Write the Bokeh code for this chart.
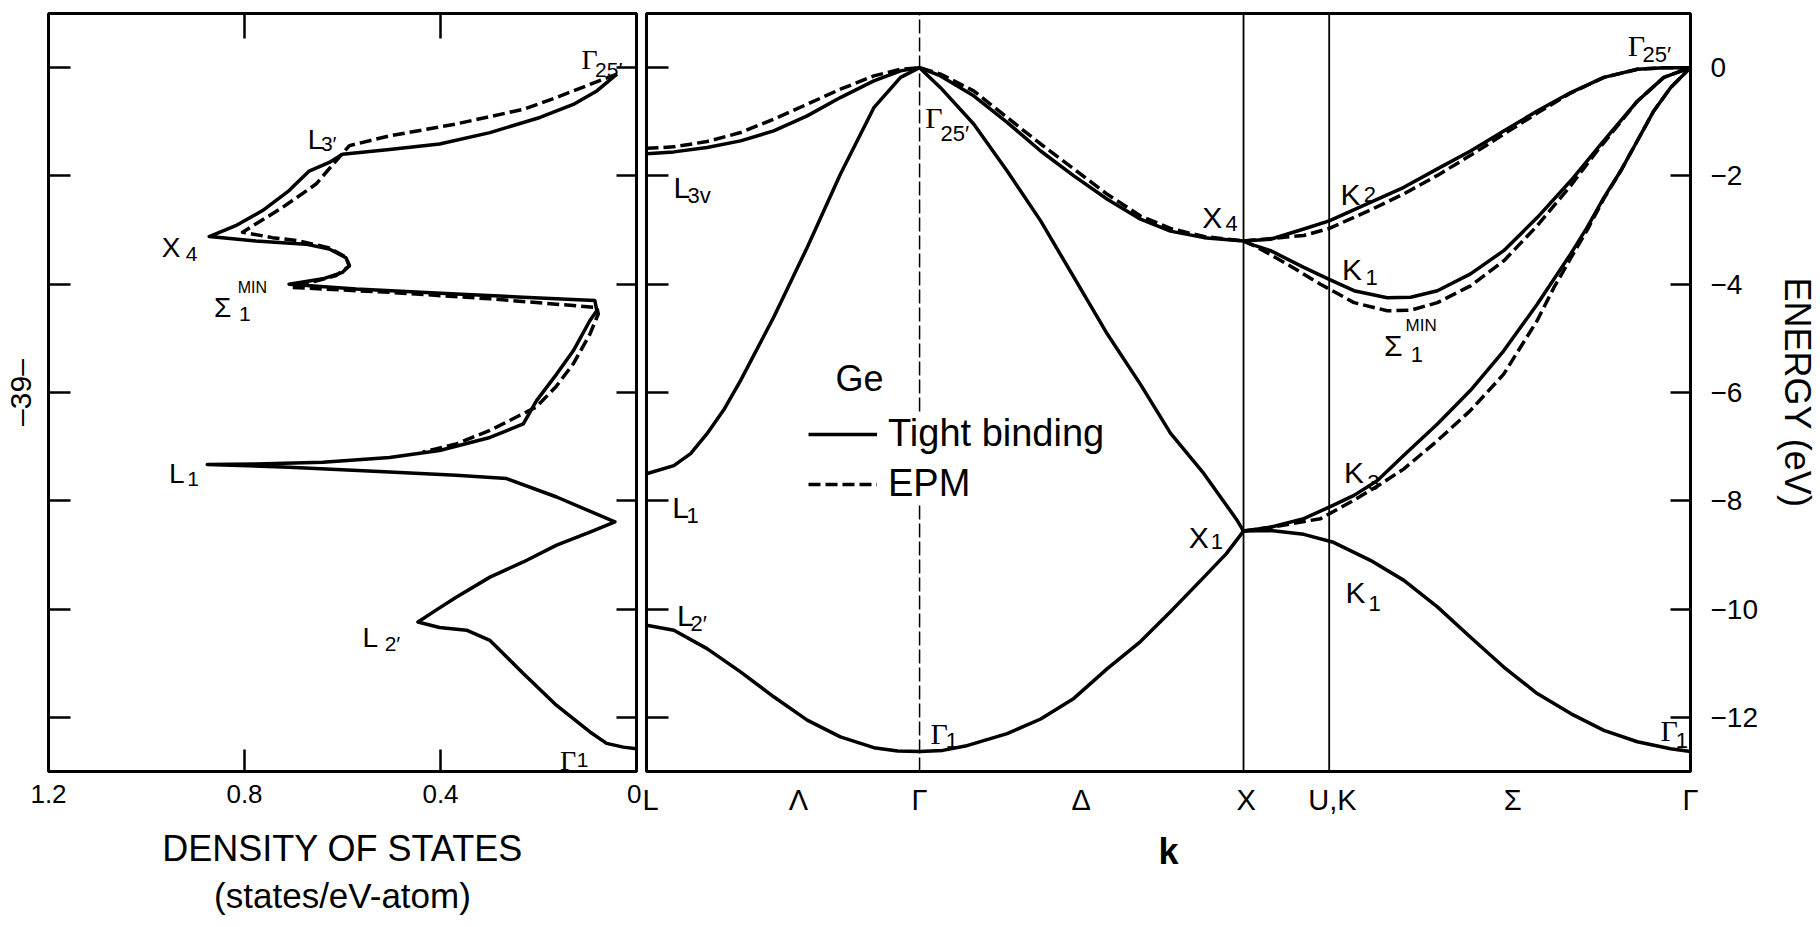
from bokeh.plotting import figure
from bokeh.models import (Range1d, LinearAxis, FixedTicker, Legend, LegendItem,
                          ColumnDataSource, CustomLabelingPolicy)
from bokeh.layouts import row
from bokeh.embed import file_html
from bokeh.resources import INLINE
from bokeh.core.properties import value

SANS = "Liberation Sans"
SERIF = "Liberation Serif"

# ---------------- axis definitions ----------------
E_MIN, E_MAX = -13.0, 1.0
energy_ticks = [0, -2, -4, -6, -8, -10, -12]
energy_tick_text = ["0", "\u22122", "\u22124", "\u22126", "\u22128", "\u221210", "\u221212"]
dos_ticks = [1.2, 0.8, 0.4, 0.0]
dos_tick_text = ["1.2", "0.8", "0.4", "0"]
dos_inner_ticks = [0.8, 0.4]
kpath_ticks = [0.013, 0.472, 0.848, 1.35, 1.862, 2.13, 2.69, 3.242]
kpath_tick_text = ["L", "\u039b", "\u0393", "\u0394", "X", "U,K", "\u03a3", "\u0393"]
K_MAX = 3.242
gamma_line_k = [0.848]
zone_lines_k = [1.854, 2.12]

# ---------------- density of states ----------------
dos_tb_D = [0.040, 0.081, 0.129, 0.197, 0.299, 0.402, 0.504, 0.600, 0.627, 0.668,
            0.709, 0.763, 0.818, 0.872, 0.777, 0.675, 0.627, 0.593, 0.586, 0.600,
            0.640, 0.709, 0.572, 0.368, 0.231, 0.085, 0.081, 0.095, 0.129, 0.163,
            0.204, 0.231, 0.299, 0.402, 0.504, 0.640, 0.777, 0.876, 0.709, 0.504,
            0.368, 0.265, 0.163, 0.044, 0.095, 0.163, 0.231, 0.299, 0.368, 0.409,
            0.446, 0.402, 0.347, 0.299, 0.231, 0.163, 0.095, 0.061, 0.027, 0.0]
dos_tb_E = [-0.12, -0.43, -0.68, -0.92, -1.20, -1.41, -1.51, -1.60, -1.75, -1.91,
            -2.27, -2.64, -2.92, -3.12, -3.20, -3.26, -3.35, -3.51, -3.66, -3.78,
            -3.90, -4.00, -4.09, -4.18, -4.24, -4.30, -4.49, -4.67, -5.23, -5.66,
            -6.15, -6.58, -6.83, -7.07, -7.20, -7.29, -7.32, -7.33, -7.38, -7.47,
            -7.53, -7.59, -7.93, -8.39, -8.58, -8.82, -9.13, -9.41, -9.78, -10.02,
            -10.24, -10.34, -10.39, -10.58, -11.19, -11.78, -12.27, -12.48, -12.55, -12.58]

dos_epm_D = [0.040, 0.095, 0.163, 0.231, 0.368, 0.504, 0.586, 0.613, 0.654, 0.722,
             0.804, 0.743, 0.688, 0.627, 0.593, 0.586, 0.613, 0.654, 0.702, 0.504,
             0.299, 0.081, 0.078, 0.095, 0.129, 0.165, 0.205, 0.299, 0.368, 0.436]
dos_epm_E = [-0.12, -0.31, -0.55, -0.77, -1.04, -1.26, -1.44, -1.72, -2.15, -2.58,
             -3.04, -3.14, -3.20, -3.33, -3.50, -3.66, -3.84, -3.94, -4.06, -4.15,
             -4.27, -4.43, -4.55, -4.92, -5.47, -5.90, -6.27, -6.70, -6.95, -7.10]

# ---------------- band structure: tight binding ----------------
tb_b1_k = [0.0, 0.085, 0.188, 0.292, 0.395, 0.499, 0.602, 0.706, 0.78, 0.848, 0.92,
           0.99, 1.12, 1.224, 1.327, 1.431, 1.534, 1.627, 1.731, 1.80, 1.854]
tb_b1_E = [-10.30, -10.39, -10.73, -11.16, -11.62, -12.05, -12.36, -12.56, -12.62,
           -12.63, -12.61, -12.53, -12.30, -12.03, -11.65, -11.10, -10.60, -10.05,
           -9.41, -8.98, -8.56]

tb_b2_k = [0.0, 0.085, 0.137, 0.188, 0.240, 0.292, 0.395, 0.499, 0.602, 0.706, 0.789,
           0.848, 0.913, 1.016, 1.12, 1.224, 1.327, 1.431, 1.534, 1.627, 1.731, 1.834, 1.854]
tb_b2_E = [-7.50, -7.35, -7.13, -6.76, -6.32, -5.78, -4.61, -3.32, -1.97, -0.74, -0.18,
           0.0, -0.37, -1.04, -1.91, -2.83, -3.87, -4.92, -5.85, -6.75, -7.50, -8.36, -8.56]

tb_b3_k = [0.0, 0.085, 0.188, 0.292, 0.395, 0.499, 0.602, 0.706, 0.789, 0.848, 0.913,
           1.016, 1.12, 1.224, 1.327, 1.431, 1.534, 1.627, 1.731, 1.854]
tb_b3_E = [-1.59, -1.556, -1.476, -1.353, -1.168, -0.891, -0.553, -0.245, -0.06, 0.0,
           -0.153, -0.52, -1.01, -1.54, -2.00, -2.43, -2.80, -3.02, -3.14, -3.20]

tb_k2_k = [1.854, 1.938, 2.041, 2.12, 2.248, 2.352, 2.456, 2.559, 2.662, 2.766, 2.87,
           2.973, 3.077, 3.16, 3.242]
tb_k2_E = [-3.20, -3.17, -2.98, -2.83, -2.49, -2.21, -1.87, -1.54, -1.17, -0.80, -0.46,
           -0.18, -0.03, 0.0, 0.0]

tb_s1_k = [1.854, 1.876, 1.938, 2.041, 2.12, 2.197, 2.30, 2.373, 2.456, 2.559, 2.662,
           2.766, 2.87, 2.973, 3.077, 3.159, 3.242]
tb_s1_E = [-3.20, -3.26, -3.38, -3.69, -3.91, -4.12, -4.25, -4.24, -4.12, -3.81, -3.38,
           -2.77, -2.09, -1.35, -0.62, -0.18, 0.0]

tb_k3_k = [1.854, 1.938, 2.041, 2.13, 2.197, 2.269, 2.352, 2.456, 2.559, 2.662, 2.766,
           2.87, 2.921, 2.973, 3.025, 3.077, 3.128, 3.18, 3.242]
tb_k3_E = [-8.56, -8.49, -8.33, -8.09, -7.90, -7.63, -7.16, -6.58, -5.96, -5.23, -4.37,
           -3.44, -2.95, -2.40, -1.91, -1.35, -0.80, -0.37, 0.0]

tb_k1_k = [1.854, 1.938, 2.041, 2.13, 2.248, 2.352, 2.456, 2.559, 2.662, 2.766, 2.87,
           2.973, 3.077, 3.18, 3.242]
tb_k1_E = [-8.56, -8.55, -8.62, -8.76, -9.10, -9.47, -9.96, -10.52, -11.07, -11.56,
           -11.93, -12.24, -12.45, -12.58, -12.63]

# ---------------- band structure: EPM ----------------
epm_b3_k = [0.0, 0.085, 0.188, 0.292, 0.395, 0.499, 0.602, 0.706, 0.789, 0.848, 0.913,
            1.016, 1.12, 1.224, 1.327, 1.431, 1.534, 1.627, 1.731, 1.854]
epm_b3_E = [-1.49, -1.463, -1.365, -1.199, -0.953, -0.676, -0.399, -0.153, -0.03, 0.0,
            -0.12, -0.43, -0.92, -1.41, -1.87, -2.34, -2.74, -2.97, -3.12, -3.20]

epm_k2_k = [1.854, 1.95, 2.041, 2.12, 2.248, 2.352, 2.456, 2.559, 2.662, 2.766, 2.87,
            2.973, 3.077, 3.16, 3.242]
epm_k2_E = [-3.20, -3.15, -3.10, -2.97, -2.63, -2.33, -1.99, -1.62, -1.23, -0.84, -0.47,
            -0.18, -0.03, 0.0, 0.0]

epm_s1_k = [1.854, 1.897, 1.99, 2.093, 2.197, 2.30, 2.373, 2.456, 2.559, 2.662, 2.766,
            2.87, 2.952, 3.077, 3.159, 3.242]
epm_s1_E = [-3.20, -3.32, -3.63, -4.00, -4.34, -4.49, -4.48, -4.34, -4.03, -3.57, -2.92,
            -2.18, -1.54, -0.62, -0.18, 0.0]

epm_k3_k = [1.854, 1.95, 2.093, 2.197, 2.28, 2.352, 2.456, 2.559, 2.662, 2.766, 2.818,
            2.87, 2.921, 2.973, 3.025, 3.077, 3.128, 3.18, 3.242]
epm_k3_E = [-8.56, -8.48, -8.33, -7.99, -7.69, -7.41, -6.89, -6.33, -5.66, -4.67, -4.06,
            -3.52, -3.00, -2.42, -1.91, -1.35, -0.80, -0.37, 0.0]

# ---------------- point labels ----------------
band_lbl_text = ["\u0393", "L", "L", "L", "\u0393", "X", "K", "K", "\u03a3", "\u0393", "K", "X", "K", "\u0393"]
band_lbl_k = [0.866, 0.084, 0.080, 0.095, 0.882, 1.726, 2.155, 2.160, 2.29, 3.047, 2.166, 1.684, 2.171, 3.149]
band_lbl_E = [-0.92, -2.21, -8.12, -10.12, -12.29, -2.77, -2.34, -3.72, -5.13, 0.40, -7.47, -8.67, -9.69, -12.24]
band_sub_text = ["25\u2032", "3v", "1", "2\u2032", "1", "4", "2", "1", "1", "25\u2032", "3", "1", "1", "1"]
band_sub_k = [0.913, 0.127, 0.124, 0.137, 0.929, 1.798, 2.227, 2.233, 2.373, 3.093, 2.238, 1.752, 2.242, 3.196]
band_sub_E = [-1.22, -2.37, -8.27, -10.26, -12.42, -2.88, -2.34, -3.87, -5.29, 0.25, -7.66, -8.76, -9.90, -12.42]
band_sup_text = ["MIN"]
band_sup_k = [2.357]
band_sup_E = [-4.77]

dos_lbl_text = ["\u0393", "L", "X", "\u03a3", "L", "L", "\u0393"]
dos_lbl_D = [0.112, 0.671, 0.969, 0.862, 0.954, 0.559, 0.156]
dos_lbl_E = [0.155, -1.32, -3.32, -4.43, -7.50, -10.52, -12.79]
dos_sub_text = ["25\u2032", "3\u2032", "4", "1", "1", "2\u2032", "1"]
dos_sub_D = [0.0845, 0.644, 0.920, 0.811, 0.917, 0.514, 0.122]
dos_sub_E = [-0.03, -1.41, -3.44, -4.55, -7.59, -10.64, -12.79]
dos_sup_text = ["MIN"]
dos_sup_D = [0.814]
dos_sup_E = [-4.06]

material_text = ["Ge"]
material_k = [0.587]
material_E = [-5.75]

page_mark = "\u201339\u2013"

# ---------------- helpers ----------------
def hide_labels():
    return CustomLabelingPolicy(code="""
        const ks = Array.from(indices);
        for (const k of ks) { indices.unset(k); }
        return indices;
    """)


def tick_only_axis(ticks, tick_in):
    return LinearAxis(ticker=FixedTicker(ticks=ticks), major_tick_in=tick_in,
                      major_tick_out=0, major_tick_line_width=2.5,
                      major_tick_line_color="black", minor_tick_line_color=None,
                      axis_line_color=None, major_label_text_font_size="0px",
                      major_label_standoff=0, major_label_policy=hide_labels())


def add_text(p, xs, ys, texts, size):
    fonts = [SERIF if t == "\u0393" else SANS for t in texts]
    src = ColumnDataSource(dict(x=xs, y=ys, t=texts, f=fonts))
    p.text(x="x", y="y", text="t", text_font="f", source=src,
           text_font_size=value(size), text_align="left",
           text_baseline="alphabetic", text_color="black")


common = dict(toolbar_location=None, output_backend="svg",
              x_axis_location=None, y_axis_location=None,
              background_fill_color="white", border_fill_color="white",
              outline_line_color="black", outline_line_width=3,
              min_border_top=13, min_border_bottom=156)

# ================= left panel: density of states =================
pL = figure(width=641, height=927, x_range=Range1d(1.2, 0.0),
            y_range=Range1d(E_MIN, E_MAX), min_border_left=48, min_border_right=5,
            **common)
pL.grid.visible = False

pL.line(dos_tb_D, dos_tb_E, line_color="black", line_width=3.5, line_join="round")
pL.line(dos_epm_D, dos_epm_E, line_color="black", line_width=3.5, line_dash="12 5",
        line_join="round")

axL_left = tick_only_axis(energy_ticks, 22)
axL_left.axis_label = page_mark
axL_left.axis_label_text_font = SANS
axL_left.axis_label_text_font_size = "30px"
axL_left.axis_label_text_font_style = "normal"
axL_left.axis_label_text_color = "black"
axL_left.axis_label_standoff = 12
pL.add_layout(axL_left, "left")
pL.add_layout(tick_only_axis(energy_ticks, 20), "right")
pL.add_layout(tick_only_axis(dos_inner_ticks, 25), "above")

axL_bot = LinearAxis(ticker=FixedTicker(ticks=dos_ticks), major_tick_in=22,
                     major_tick_out=0, major_tick_line_width=2.5,
                     major_tick_line_color="black",
                     minor_tick_line_color=None, axis_line_color=None,
                     major_label_overrides=dict(zip(dos_ticks, dos_tick_text)),
                     major_label_text_font=SANS, major_label_text_font_size="26px",
                     major_label_text_color="black", major_label_standoff=13,
                     axis_label="DENSITY OF STATES", axis_label_text_font=SANS,
                     axis_label_text_font_size="36px", axis_label_text_font_style="normal",
                     axis_label_text_color="black", axis_label_standoff=22)
pL.add_layout(axL_bot, "below")
axL_bot2 = LinearAxis(ticker=FixedTicker(ticks=[]), major_tick_in=0, major_tick_out=0,
                      minor_tick_line_color=None, axis_line_color=None,
                      major_label_text_font_size="0px", major_label_standoff=0,
                      major_label_policy=hide_labels(),
                      axis_label="(states/eV-atom)", axis_label_text_font=SANS,
                      axis_label_text_font_size="35px", axis_label_text_font_style="normal",
                      axis_label_text_color="black", axis_label_standoff=4)
pL.add_layout(axL_bot2, "below")

add_text(pL, dos_lbl_D, dos_lbl_E, dos_lbl_text, "28px")
add_text(pL, dos_sub_D, dos_sub_E, dos_sub_text, "21px")
add_text(pL, dos_sup_D, dos_sup_E, dos_sup_text, "16px")

# ================= right panel: band structure =================
pR = figure(width=1179, height=927, x_range=Range1d(0.0, K_MAX),
            y_range=Range1d(E_MIN, E_MAX), min_border_left=5, min_border_right=130,
            **common)
pR.grid.visible = False

pR.segment(x0=gamma_line_k, y0=[E_MIN] * len(gamma_line_k), x1=gamma_line_k,
           y1=[E_MAX] * len(gamma_line_k), line_color="black", line_width=1.5,
           line_dash="14 4")
pR.segment(x0=zone_lines_k, y0=[E_MIN] * len(zone_lines_k), x1=zone_lines_k,
           y1=[E_MAX] * len(zone_lines_k), line_color="black", line_width=1.8)

tb_bands = [(tb_b1_k, tb_b1_E), (tb_b2_k, tb_b2_E), (tb_b3_k, tb_b3_E),
            (tb_k2_k, tb_k2_E), (tb_s1_k, tb_s1_E), (tb_k3_k, tb_k3_E),
            (tb_k1_k, tb_k1_E)]
epm_bands = [(epm_b3_k, epm_b3_E), (epm_k2_k, epm_k2_E), (epm_s1_k, epm_s1_E),
             (epm_k3_k, epm_k3_E)]

tb_renderers = [pR.line(k, e, line_color="black", line_width=3.5, line_join="round")
                for k, e in tb_bands]
epm_renderers = [pR.line(k, e, line_color="black", line_width=3.5, line_dash="12 5",
                         line_join="round") for k, e in epm_bands]

pR.add_layout(tick_only_axis(energy_ticks, 22), "left")
axR_right = LinearAxis(ticker=FixedTicker(ticks=energy_ticks), major_tick_in=20,
                       major_tick_out=0, major_tick_line_width=2.5,
                       major_tick_line_color="black",
                       minor_tick_line_color=None, axis_line_color=None,
                       major_label_overrides=dict(zip(energy_ticks, energy_tick_text)),
                       major_label_text_font=SANS, major_label_text_font_size="28px",
                       major_label_text_color="black", major_label_standoff=20,
                       axis_label="ENERGY (eV)", axis_label_text_font=SANS,
                       axis_label_text_font_size="36px", axis_label_text_font_style="normal",
                       axis_label_text_color="black", axis_label_standoff=16)
pR.add_layout(axR_right, "right")
axR_bot = LinearAxis(ticker=FixedTicker(ticks=kpath_ticks), major_tick_in=0,
                     major_tick_out=0, major_tick_line_color=None,
                     minor_tick_line_color=None, axis_line_color=None,
                     major_label_overrides=dict(zip(kpath_ticks, kpath_tick_text)),
                     major_label_text_font=SANS, major_label_text_font_size="29px",
                     major_label_text_color="black", major_label_standoff=12,
                     axis_label="k", axis_label_text_font=SANS,
                     axis_label_text_font_size="36px", axis_label_text_font_style="bold",
                     axis_label_text_color="black", axis_label_standoff=12)
pR.add_layout(axR_bot, "below")

add_text(pR, band_lbl_k, band_lbl_E, band_lbl_text, "30px")
add_text(pR, band_sub_k, band_sub_E, band_sub_text, "22px")
add_text(pR, band_sup_k, band_sup_E, band_sup_text, "17px")
add_text(pR, material_k, material_E, material_text, "36px")

legend = Legend(items=[LegendItem(label="Tight binding", renderers=[tb_renderers[0]]),
                       LegendItem(label="EPM", renderers=[epm_renderers[0]])],
                location=(162, 266), orientation="vertical", border_line_color=None,
                background_fill_color="white", background_fill_alpha=1.0,
                padding=0, margin=0, spacing=7, glyph_width=69, glyph_height=40,
                label_height=40, label_standoff=11, label_text_font=SANS,
                label_text_font_size="38px", label_text_color="black")
pR.add_layout(legend)

layout = row(pL, pR)
open("out.html", "w").write(file_html(layout, INLINE))
